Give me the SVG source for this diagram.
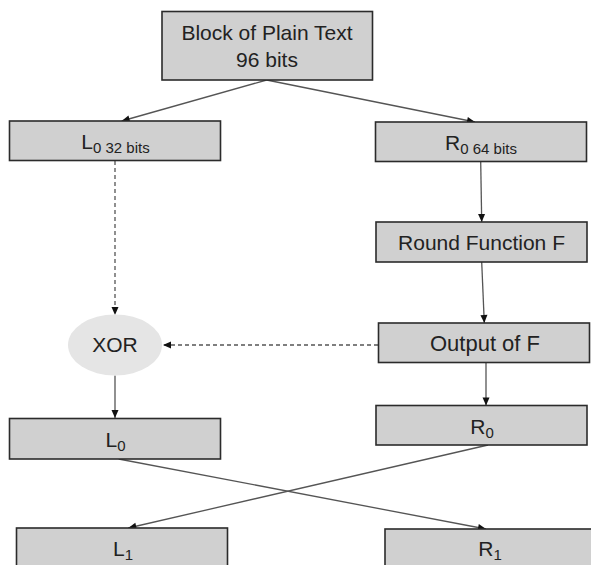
<svg xmlns="http://www.w3.org/2000/svg" width="591" height="565" viewBox="0 0 591 565">
<defs>
<style>
.box{fill:#d0d0d0;stroke:#2b2b2b;stroke-width:1.6}
.lbl{font-family:"Liberation Sans",Arial,sans-serif;font-size:21px;fill:#222;text-anchor:middle}
.sub{font-size:15px}
.con{stroke:#555;stroke-width:1.3;fill:none;marker-end:url(#ah)}
.dash{stroke-dasharray:4 3}
</style>
<marker id="ah" markerUnits="userSpaceOnUse" markerWidth="10" markerHeight="10" viewBox="0 0 10 10" refX="9" refY="5" orient="auto">
<path d="M1,1.5 L9,5 L1,8.5 Z" fill="#111"/>
</marker>
</defs>
<rect width="591" height="565" fill="#fff"/>
<g id="connectors">
<line class="con" x1="266.7" y1="80" x2="121.7" y2="121"/>
<line class="con" x1="266.7" y1="80" x2="475" y2="122"/>
<line class="con dash" x1="115" y1="161" x2="115" y2="315"/>
<line class="con" x1="480.7" y1="161.5" x2="481.7" y2="222"/>
<line class="con" x1="481.7" y1="262" x2="484.3" y2="323"/>
<line class="con dash" x1="378" y1="345" x2="163" y2="345"/>
<line class="con" x1="115" y1="375.5" x2="115" y2="418"/>
<line class="con" x1="486" y1="363" x2="486" y2="405.5"/>
<line class="con" x1="118.7" y1="459" x2="486" y2="529"/>
<line class="con" x1="488" y1="445" x2="128.3" y2="528"/>
</g>
<g id="plaintext">
<rect class="box" x="162" y="11.5" width="210.5" height="68.5"/>
<text class="lbl" x="267" y="39.5">Block of Plain Text</text>
<text class="lbl" x="267" y="67">96 bits</text>
</g>
<g id="L0top">
<rect class="box" x="9.5" y="121" width="211" height="39.5"/>
<text class="lbl" x="115.5" y="149">L<tspan class="sub" dy="4">0 32 bits</tspan></text>
</g>
<g id="R0top">
<rect class="box" x="375.5" y="122" width="211" height="39.5"/>
<text class="lbl" x="481" y="149.5">R<tspan class="sub" dy="4">0 64 bits</tspan></text>
</g>
<g id="roundF">
<rect class="box" x="376" y="222" width="211" height="40"/>
<text class="lbl" x="481.5" y="249.5">Round Function F</text>
</g>
<g id="xor">
<ellipse cx="115" cy="345" rx="47" ry="30.5" fill="#e5e5e5"/>
<text class="lbl" x="115" y="352">XOR</text>
</g>
<g id="outF">
<rect class="box" x="378.5" y="323" width="211" height="39.5"/>
<text class="lbl" x="485" y="351" style="font-size:22px">Output of F</text>
</g>
<g id="L0">
<rect class="box" x="9.5" y="418.5" width="211" height="40.5"/>
<text class="lbl" x="115.5" y="447">L<tspan class="sub" dy="4">0</tspan></text>
</g>
<g id="R0">
<rect class="box" x="376" y="405.5" width="211" height="39.5"/>
<text class="lbl" x="482" y="433.5">R<tspan class="sub" dy="4">0</tspan></text>
</g>
<g id="L1">
<rect class="box" x="16.5" y="528" width="211" height="45"/>
<text class="lbl" x="123" y="555.5">L<tspan class="sub" dy="4">1</tspan></text>
</g>
<g id="R1">
<rect class="box" x="385" y="529" width="211" height="45"/>
<text class="lbl" x="490" y="556">R<tspan class="sub" dy="4">1</tspan></text>
</g>
</svg>
